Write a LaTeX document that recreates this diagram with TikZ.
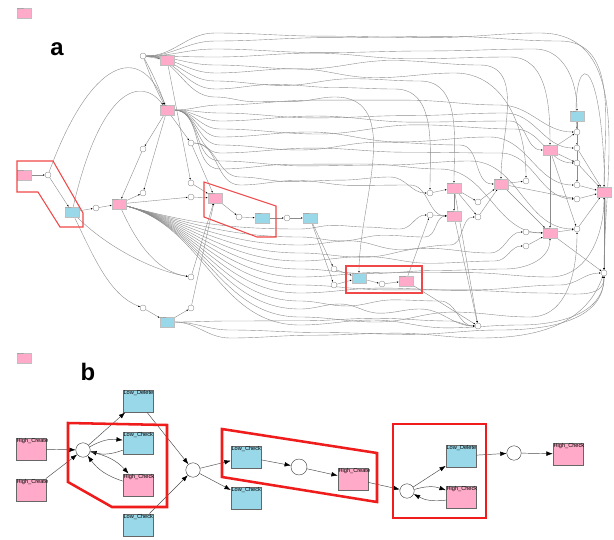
\documentclass[tikz,border=0pt]{standalone}
\usepackage{fontspec}
\setmainfont{Liberation Sans}
\usetikzlibrary{arrows.meta, positioning}
\definecolor{HighPink}{HTML}{FFAAC8}
\definecolor{LowBlue}{HTML}{98D8E8}
\definecolor{MarkRed}{HTML}{F01C1C}
\definecolor{MarkRedLight}{HTML}{F04848}
\pgfdeclarelayer{wires}
\pgfsetlayers{wires,main}

\tikzset{
  % overview net
  flow/.style={draw=black!45, line width=0.55pt, -{Latex[length=2.6pt,width=2.2pt,color=black]}},
  placeA/.style={circle, draw=black!50, fill=white, line width=0.45pt, minimum size=0.3cm, inner sep=0pt},
  boxA/.style={rectangle, draw=black!25, line width=0.5pt, minimum width=0.7cm, minimum height=0.5cm, inner sep=0pt,
    label={[tinytxt]north west:#1}},
  tinytxt/.style={anchor=north west, inner sep=0.4pt, font=\fontsize{1.7}{2}\selectfont, text=black!70},
  hiA/.style={boxA=#1, fill=HighPink},
  loA/.style={boxA=#1, fill=LowBlue},
  markA/.style={draw=MarkRedLight, line width=1.5pt, line join=miter},
  % detail net
  link/.style={draw=black!70, line width=0.65pt, -{Latex[length=9pt,width=6.5pt,color=black]}},
  placeB/.style={circle, draw=black!75, fill=white, line width=0.6pt, minimum size=0.72cm, inner sep=0pt},
  boxB/.style={rectangle, draw=black!60, line width=0.7pt, minimum width=1.5cm, minimum height=1.12cm, inner sep=0pt,
    label={[boxtxt]north west:#1}},
  boxtxt/.style={anchor=north west, inner sep=1pt, font=\fontsize{8}{8}\selectfont},
  hiB/.style={boxB=#1, fill=HighPink},
  loB/.style={boxB=#1, fill=LowBlue},
  markB/.style={draw=MarkRed, line width=3.6pt, line join=miter},
  tag/.style={font=\fontsize{34}{34}\selectfont\bfseries}
}

% one long wavy connector of the overview net
% #1 source, #2 out angle, #3 start x, #4 level, #5 end x, #6 target, #7 in angle
\newcommand{\flowline}[7]{%
  \pgfmathsetmacro{\fxa}{#3+(#5-#3)/3}%
  \pgfmathsetmacro{\fxb}{#3+2*(#5-#3)/3}%
  \pgfmathsetmacro{\fya}{#4+5*sin(#4*23)}%
  \pgfmathsetmacro{\fyb}{#4-5*cos(#4*17)}%
  \draw[flow] (#1) to[out=#2,in=180] (#3,#4) to[out=0,in=180] (\fxa,\fya)
    to[out=0,in=180] (\fxb,\fyb) to[out=0,in=180] (#5,#4) to[out=0,in=#7] (#6);}

\begin{document}
\begin{tikzpicture}[x=0.05cm, y=-0.05cm]
\useasboundingbox (0,0) rectangle (614,539);

% ---------- overview ----------
\node[hiA=High\_Create] (keyA) at (24,13) {};
\node[tag] (tagA) at (57,49) {a};

% transitions
\node[hiA=High\_Create] (pA) at (167,60) {};
\node[hiA=High\_Create] (pB) at (167,110) {};
\node[hiA=High\_Create] (pC) at (24,175) {};
\node[hiA=High\_Check] (pD) at (119,204) {};
\node[hiA=High\_Check] (pE) at (215,198) {};
\node[hiA=High\_Create] (pF) at (406,281) {};
\node[hiA=High\_Create] (pG) at (454,188) {};
\node[hiA=High\_Check] (pH) at (454,216) {};
\node[hiA=High\_Create] (pI) at (501,184) {};
\node[hiA=High\_Create] (pJ) at (550,150) {};
\node[hiA=High\_Check] (pK) at (550,233) {};
\node[hiA=High\_Check] (pL) at (604,192) {};
\node[loA=Low\_Check] (bA) at (72,212) {};
\node[loA=Low\_Check] (bB) at (262,218) {};
\node[loA=Low\_Check] (bC) at (310,218) {};
\node[loA=Low\_Check] (bD) at (359,278) {};
\node[loA=Low\_Check] (bE) at (167,322) {};
\node[loA=Low\_Delete] (bF) at (577,116) {};

% places
\node[placeA] (cT) at (143,56) {};
\node[placeA] (c1) at (48,175) {};
\node[placeA] (c2) at (96,208) {};
\node[placeA] (c3) at (143,193) {};
\node[placeA] (c4) at (143,149) {};
\node[placeA] (c5) at (191,143) {};
\node[placeA] (c6) at (191,183) {};
\node[placeA] (c7) at (191,197) {};
\node[placeA] (c8) at (239,217) {};
\node[placeA] (c9) at (287,218) {};
\node[placeA] (c10) at (191,277) {};
\node[placeA] (c11) at (143,308) {};
\node[placeA] (c12) at (191,308) {};
\node[placeA] (c13) at (334,269) {};
\node[placeA] (c14) at (334,285) {};
\node[placeA] (c15) at (382,284) {};
\node[placeA] (c16) at (430,193) {};
\node[placeA] (c17) at (430,215) {};
\node[placeA] (c18) at (478,202) {};
\node[placeA] (c19) at (478,217) {};
\node[placeA] (c20) at (526,181) {};
\node[placeA] (c21) at (526,232) {};
\node[placeA] (c22) at (526,246) {};
\node[placeA] (c23) at (478,326) {};
\node[placeA] (c24) at (604,273) {};
\node[placeA] (c25) at (577,132) {};
\node[placeA] (c26) at (577,148) {};
\node[placeA] (c27) at (577,163) {};
\node[placeA] (c28) at (577,185) {};
\node[placeA] (c29) at (577,199) {};
\node[placeA] (c30) at (577,229) {};

\begin{pgfonlayer}{wires}
\fill[white] (0,0) rectangle (614,539);
% entry on the left
\draw[flow] (pC) -- (c1);
\draw[flow] (c1) -- (bA);
\draw[flow] (bA) -- (c2);
\draw[flow] (c2) -- (pD);
\draw[flow] (c1) .. controls (90,60) and (140,40) .. (pB);
\draw[flow] (bA) .. controls (100,90) and (140,75) .. (pB);
\draw[flow] (bA) .. controls (95,260) and (110,295) .. (c11);
\draw[flow] (bA) .. controls (105,245) and (150,270) .. (c10);
\draw[flow] (pD) .. controls (140,250) and (160,272) .. (c10);

% top column
\draw[flow] (cT) -- (pA);
\draw[flow] (cT) to[bend left=4] (pB);
\draw[flow] (cT) to[bend right=4] (pB);
\draw[flow] (pA) -- (c6);
\draw[flow] (pB) -- (c4);
\draw[flow] (pB) -- (c5);
\draw[flow] (pB) -- (c3);
\draw[flow] (c4) -- (pD);
\draw[flow] (pD) -- (c3);
\draw[flow] (pD) -- (c7);
\draw[flow] (c5) -- (pE);
\draw[flow] (c6) -- (pE);
\draw[flow] (c7) -- (pE);
\draw[flow] (c10) -- (pE);
\draw[flow] (c12) -- (pE);
\draw[flow] (c11) -- (bE);
\draw[flow] (bE) -- (c12);

% middle row
\draw[flow] (pE) -- (c8);
\draw[flow] (c8) -- (bB);
\draw[flow] (bB) -- (c9);
\draw[flow] (c9) -- (bC);
\draw[flow] (bC) -- (c13);
\draw[flow] (bC) -- (c14);
\draw[flow] (c13) -- (bD);
\draw[flow] (c14) -- (bD);
\draw[flow] (bD) -- (c15);
\draw[flow] (c15) -- (pF);
\draw[flow] (pF) -- (c17);
\draw[flow] (c16) -- (pG);
\draw[flow] (c17) -- (pH);
\draw[flow] (pG) -- (pH);
\draw[flow] (pG) -- (c18);
\draw[flow] (pG) -- (c19);
\draw[flow] (c18) -- (pI);
\draw[flow] (c19) -- (pI);
\draw[flow] (pI) -- (c20);
\draw[flow] (pH) -- (c23);
\draw[flow] (pG) -- (c23);
\draw[flow] (pF) -- (c23);

% right cluster
\draw[flow] (pI) -- (pK);
\draw[flow] (c21) -- (pK);
\draw[flow] (c22) -- (pK);
\draw[flow] (pK) -- (c30);
\draw[flow] (pJ) -- (pK);
\draw[flow] (bF) -- (c25);
\draw[flow] (bF) -- (c26);
\draw[flow] (bF) -- (c28);
\draw[flow] (pJ) -- (c25);
\draw[flow] (pJ) -- (c27);
\draw[flow] (pJ) -- (c30);
\draw[flow] (c26) -- (pL);
\draw[flow] (c27) -- (pL);
\draw[flow] (c28) -- (pL);
\draw[flow] (c29) -- (pL);
\draw[flow] (c30) -- (pL);
\draw[flow] (pL) -- (c24);
\draw[flow] (pK) -- (c24);
\draw[flow] (pI) -- (c29);
\draw[flow] (c25) .. controls (570,40) and (612,40) .. (c24);

% long wavy connectors
\foreach \lv/\ex/\tg/\ang in {33/540/c24/90, 41/560/pL/90, 49/535/bF/90, 57/510/pJ/90,
    65/480/pI/90, 73/455/c20/90, 81/420/pG/90, 89/395/c16/90, 97/335/bD/90}
  {\flowline{cT}{0}{215}{\lv}{\ex}{\tg}{\ang}}
\foreach \lv/\ex/\tg/\ang in {105/500/c25/180, 113/505/c26/180, 121/510/pJ/180, 129/515/c27/180,
    137/490/c28/180, 145/460/pI/180, 153/500/c29/180, 161/470/c30/180, 169/440/pK/180}
  {\flowline{pB}{0}{220}{\lv}{\ex}{\tg}{\ang}}
\foreach \lv/\ex/\tg/\ang in {177/390/c16/180, 185/410/pH/180}
  {\flowline{c5}{0}{240}{\lv}{\ex}{\tg}{\ang}}
\foreach \lv/\ex/\tg/\ang in {229/400/c17/180, 237/425/pH/180, 245/450/c19/180, 253/490/c21/180,
    261/495/c22/180, 269/505/pK/-90, 277/550/pL/-90, 285/560/c24/180, 293/545/c24/-90,
    301/440/c23/180, 309/420/c23/180, 317/530/c30/-90, 325/520/c24/-90}
  {\flowline{pD}{-15}{300}{\lv}{\ex}{\tg}{\ang}}
\foreach \lv/\ex/\tg/\ang in {321/450/c23/180, 330/500/c24/-90, 338/480/c24/-110}
  {\flowline{bE}{0}{230}{\lv}{\ex}{\tg}{\ang}}
\end{pgfonlayer}

% highlighted fragments
\draw[markA] (17,161) -- (53,161) -- (83,213) -- (83,227) -- (60,227) -- (38,192) -- (17,192) -- cycle;
\draw[markA] (204,182) -- (276,206) -- (276,237) -- (257,237) -- (204,217) -- cycle;
\draw[markA] (346,266) rectangle (422,293);

% ---------- detail ----------
\node[hiA=High\_Create] (keyB) at (24,358) {};
\node[tag] (tagB) at (88,372) {b};

\node[hiB=High\_Create] (hcA) at (31,449) {};
\node[hiB=High\_Create] (hcB) at (31,490) {};
\node[placeB] (sA) at (83,450) {};
\node[loB=Low\_Delete] (ldA) at (138,401) {};
\node[loB=Low\_Check] (lcA) at (138,443) {};
\node[hiB=High\_Check] (hkA) at (138,485) {};
\node[loB=Low\_Check] (lcB) at (138,525) {};
\node[placeB] (sB) at (193,470) {};
\node[loB=Low\_Check] (lcC) at (246,457) {};
\node[loB=Low\_Check] (lcD) at (246,498) {};
\node[placeB, minimum size=0.8cm] (sC) at (299,467) {};
\node[hiB=High\_Create] (hcC) at (353,479) {};
\node[placeB] (sD) at (407,491) {};
\node[loB=Low\_Delete] (ldB) at (461,456) {};
\node[hiB=High\_Check] (hkB) at (461,497) {};
\node[placeB] (sE) at (514,453) {};
\node[hiB=High\_Check] (hkC) at (568,454) {};

\draw[link] (hcA) -- (sA);
\draw[link] (hcB) -- (sA);
\draw[link] (sA) -- (ldA);
\draw[link] (sA) to[bend left=18] (lcA);
\draw[link] (lcA) to[bend left=18] (sA);
\draw[link] (sA) to[bend left=18] (hkA);
\draw[link] (hkA) to[bend left=18] (sA);
\draw[link] (ldA) -- (sB);
\draw[link] (lcB) -- (sB);
\draw[link] (sB) -- (lcC);
\draw[link] (sB) -- (lcD);
\draw[link] (lcC) -- (sC);
\draw[link] (sC) -- (hcC);
\draw[link] (hcC) -- (sD);
\draw[link] (sD) -- (ldB);
\draw[link] (sD) to[bend left=18] (hkB);
\draw[link] (hkB) to[bend left=18] (sD);
\draw[link] (ldB) -- (sE);
\draw[link] (sE) -- (hkC);

\draw[markB] (68,423) -- (167,425) -- (167,507) -- (112,507) -- (68,482) -- cycle;
\draw[markB] (222,429) -- (377,453) -- (377,502) -- (222,477) -- cycle;
\draw[markB] (393,424) rectangle (486,518);
\end{tikzpicture}
\end{document}
